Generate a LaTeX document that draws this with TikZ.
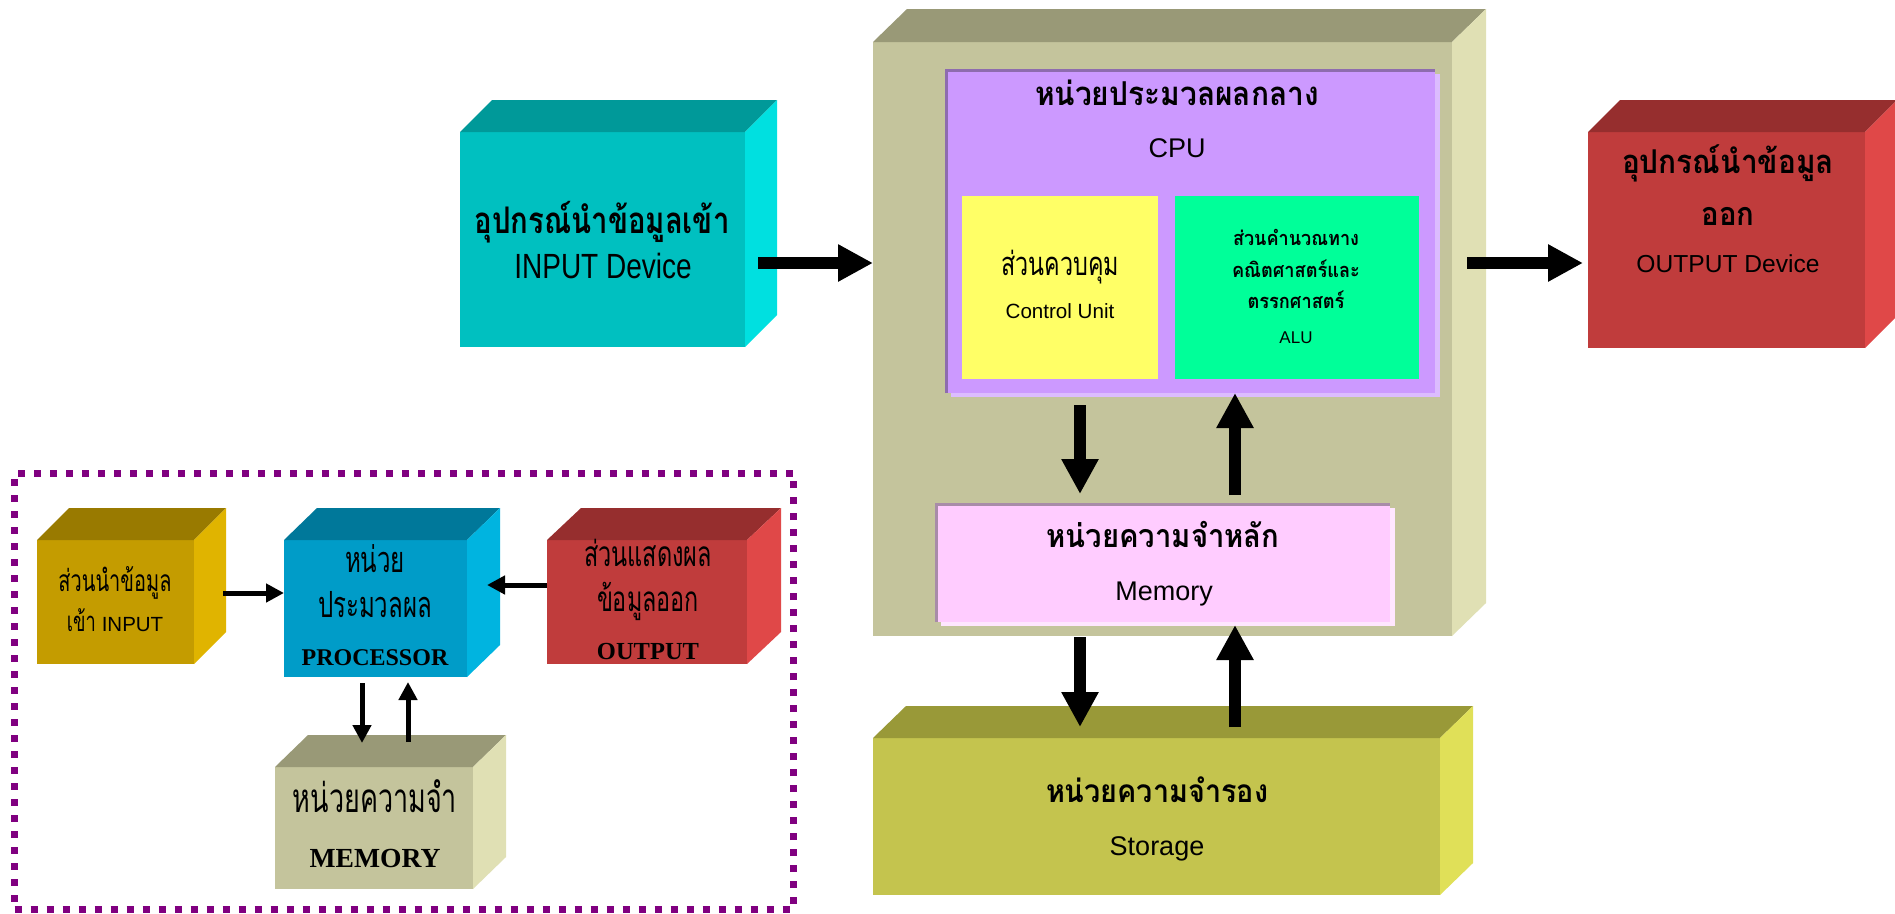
\documentclass[tikz,border=0pt]{standalone}
\usepackage{fontspec}
\usetikzlibrary{arrows.meta,calc,shadows}
\setmainfont{Liberation Sans}
\newfontfamily\thaif[Script=Thai]{Loma}
\newfontfamily\lsans{Liberation Sans}
\newfontfamily\lserif{Liberation Serif}
\newcommand\fitw[2]{\resizebox{#1pt}{!}{#2}}
\newcommand\fs[1]{\fontsize{#1}{#1}\selectfont}
\newcommand\tb[2]{{\thaif\bfseries\scalebox{1}[1.1]{\fitw{#1}{#2}}}}
\newcommand\tn[2]{{\thaif\scalebox{1}[1.5]{\fitw{#1}{#2}}}}
\newcommand\cubefaces[5]{%
  \fill[#4] (#1.north west) -- ++(#2,-#3) -- ($(#1.north east)+(#2,-#3)$) -- (#1.north east) -- cycle;
  \fill[#5] (#1.north east) -- ++(#2,-#3) -- ($(#1.south east)+(#2,-#3)$) -- (#1.south east) -- cycle;}
\definecolor{inF}{HTML}{00C0C0}\definecolor{inT}{HTML}{009999}\definecolor{inS}{HTML}{00E0E0}
\definecolor{cpF}{HTML}{C4C49C}\definecolor{cpT}{HTML}{999977}\definecolor{cpS}{HTML}{E0E0B4}
\definecolor{stF}{HTML}{C4C44E}\definecolor{stT}{HTML}{999938}\definecolor{stS}{HTML}{E0E058}
\definecolor{ouF}{HTML}{C03C3C}\definecolor{ouT}{HTML}{962E2E}\definecolor{ouS}{HTML}{E04848}
\definecolor{gdF}{HTML}{C49C00}\definecolor{gdT}{HTML}{997A00}\definecolor{gdS}{HTML}{E0B400}
\definecolor{prF}{HTML}{009CC8}\definecolor{prT}{HTML}{00789A}\definecolor{prS}{HTML}{00B4E0}
\definecolor{puF}{HTML}{CC99FF}\definecolor{puE}{HTML}{8E6CAE}\definecolor{puSh}{HTML}{DCBCFF}
\definecolor{pkF}{HTML}{FFCCFF}\definecolor{pkE}{HTML}{A88CA8}\definecolor{pkSh}{HTML}{FFE6FF}
\definecolor{yeF}{HTML}{FFFF66}\definecolor{grF}{HTML}{00FF99}
\definecolor{dashc}{HTML}{800080}
\begin{document}
\begin{tikzpicture}[x=1pt,y=-1pt,
  box/.style={rectangle,inner sep=0pt,outer sep=0pt,anchor=north west,draw=none},
  lbl/.style={inner sep=0pt,outer sep=0pt,anchor=base,font=\fs{30}},
  bigarrow/.style={line width=12pt,-{Triangle[width=35pt,length=35pt]}},
  smallarrow/.style={line width=5pt,-{Triangle[width=18pt,length=18pt]}}]
\useasboundingbox[fill=white] (0,0) rectangle (1895,913);

% ---------------- big cubes ----------------
\node[box,fill=inF,minimum width=285pt,minimum height=215pt] (inp) at (460,132) {};
\cubefaces{inp}{32}{32}{inT}{inS}
\node[box,fill=cpF,minimum width=579pt,minimum height=594pt] (cpu) at (873,42) {};
\cubefaces{cpu}{34}{33}{cpT}{cpS}
\node[box,fill=ouF,minimum width=277pt,minimum height=216pt] (out) at (1588,132) {};
\cubefaces{out}{32}{32}{ouT}{ouS}
\node[box,fill=stF,minimum width=567pt,minimum height=157pt] (stor) at (873,738) {};
\cubefaces{stor}{33}{32}{stT}{stS}

% CPU inner
\node[box,fill=puF,minimum width=489pt,minimum height=323pt,
  drop shadow={shadow xshift=5pt,shadow yshift=-4pt,fill=puSh,opacity=1}] (cpuu) at (946,70) {};
\draw[puE,line width=3pt] (cpuu.south west) -- (cpuu.north west) -- (cpuu.north east);
\node[box,fill=yeF,minimum width=196pt,minimum height=183pt] (cu) at (962,196) {};
\node[box,fill=grF,minimum width=244pt,minimum height=183pt] (alu) at (1175,196) {};
\node[box,fill=pkF,minimum width=454pt,minimum height=118pt,
  drop shadow={shadow xshift=5pt,shadow yshift=-4pt,fill=pkSh,opacity=1}] (mem) at (936,504) {};
\draw[pkE,line width=3pt] (mem.south west) -- (mem.north west) -- (mem.north east);

% ---------------- big texts ----------------
\node[lbl] (in1) at (602,233) {\scalebox{1}[1.25]{\thaif\bfseries\fitw{255}{อุปกรณ์นำข้อมูลเข้า}}};
\node[lbl] (in2) at (603,278) {\scalebox{1}[1.25]{\lsans\fs{28}INPUT Device}};
\node[lbl] (cpu1) at (1177,105) {\tb{284}{หน่วยประมวลผลกลาง}};
\node[lbl] (cpu2) at (1177,157) {\lsans\fs{27}CPU};
\node[lbl] (cu1) at (1060,275) {{\thaif\scalebox{1}[1.4]{\fitw{118}{ส่วนควบคุม}}}};
\node[lbl] (cu2) at (1060,318) {\lsans\fs{20.6}Control Unit};
\node[lbl] (alu1) at (1296,245) {\tb{126}{ส่วนคำนวณทาง}};
\node[lbl] (alu2) at (1296,277) {\tb{128}{คณิตศาสตร์และ}};
\node[lbl] (alu3) at (1296,308) {\tb{97}{ตรรกศาสตร์}};
\node[lbl] (alu4) at (1296,343) {\lsans\fs{17}ALU};
\node[lbl] (mem1) at (1163,547) {\tb{233}{หน่วยความจำหลัก}};
\node[lbl] (mem2) at (1164,600) {\lsans\fs{27}Memory};
\node[lbl] (st1) at (1157,802) {\tb{222}{หน่วยความจำรอง}};
\node[lbl] (st2) at (1157,855) {\lsans\fs{27}Storage};
\node[lbl] (out1) at (1728,173) {\tb{212}{อุปกรณ์นำข้อมูล}};
\node[lbl] (out2) at (1728,225) {\tb{53}{ออก}};
\node[lbl] (out3) at (1728,272) {\lsans\fs{24.6}OUTPUT Device};

% ---------------- big arrows ----------------
\coordinate (dnx) at (1080,0);
\coordinate (upx) at (1235,0);
\draw[bigarrow,shorten <=13pt] (inp.east |- 0,263) -- (cpu.west |- 0,263);
\draw[bigarrow,shorten <=15pt,shorten >=5pt] (cpu.east |- 0,263) -- (out.west |- 0,263);
\draw[bigarrow,shorten <=12pt,shorten >=10pt] (cpuu.south -| dnx) -- (mem.north -| dnx);
\draw[bigarrow,shorten <=9pt] (mem.north -| upx) -- (cpuu.south -| upx);
\draw[bigarrow,shorten <=1pt,shorten >=11pt] (cpu.south -| dnx) -- (stor.north -| dnx);
\draw[bigarrow,shorten <=11pt,shorten >=3pt] (stor.north -| upx) -- (mem.south -| upx);

% ---------------- dashed frame ----------------
\node[box,draw=dashc,line width=7pt,dash pattern=on 7pt off 9pt,
  minimum width=779pt,minimum height=436pt] (frame) at (14.5,473) {};

% ---------------- small cubes ----------------
\node[box,fill=gdF,minimum width=157pt,minimum height=124pt] (sin) at (37,540) {};
\cubefaces{sin}{32}{32}{gdT}{gdS}
\node[box,fill=prF,minimum width=183pt,minimum height=137pt] (proc) at (284,540) {};
\cubefaces{proc}{33}{32}{prT}{prS}
\node[box,fill=ouF,minimum width=200pt,minimum height=124pt] (sout) at (547,540) {};
\cubefaces{sout}{34}{32}{ouT}{ouS}
\node[box,fill=cpF,minimum width=198pt,minimum height=122pt] (smem) at (275,767) {};
\cubefaces{smem}{33}{32}{cpT}{cpS}

\node[lbl] (g1) at (115,591) {\tn{113}{ส่วนนำข้อมูล}};
\node[lbl] (g2) at (115,631) {\tn{29}{เข้า}\hspace{6pt}{\lsans\fs{20.5}INPUT}};
\node[lbl] (p1) at (375,572) {\tn{60}{หน่วย}};
\node[lbl] (p2) at (375,617) {\tn{114}{ประมวลผล}};
\node[lbl] (p3) at (375,665) {\lserif\bfseries\fs{24}PROCESSOR};
\node[lbl] (o1) at (648,566) {\tn{128}{ส่วนแสดงผล}};
\node[lbl] (o2) at (648,611) {\tn{102}{ข้อมูลออก}};
\node[lbl] (o3) at (648,659) {\lserif\bfseries\fs{24.5}OUTPUT};
\node[lbl] (m1) at (375,812) {\tn{164}{หน่วยความจำ}};
\node[lbl] (m2) at (375,867) {\lserif\bfseries\fs{27.6}MEMORY};

% ---------------- small arrows ----------------
\coordinate (sdx) at (362,0);
\coordinate (sux) at (408,0);
\draw[smallarrow,shorten <=29pt] (sin.east |- 0,593) -- (proc.west |- 0,593);
\draw[smallarrow,shorten >=20pt] (sout.west |- 0,585) -- (proc.east |- 0,585);
\draw[smallarrow,shorten <=6pt,shorten >=24pt] (proc.south -| sdx) -- (smem.north -| sdx);
\draw[smallarrow,shorten <=25pt,shorten >=5pt] (smem.north -| sux) -- (proc.south -| sux);
\end{tikzpicture}
\end{document}
